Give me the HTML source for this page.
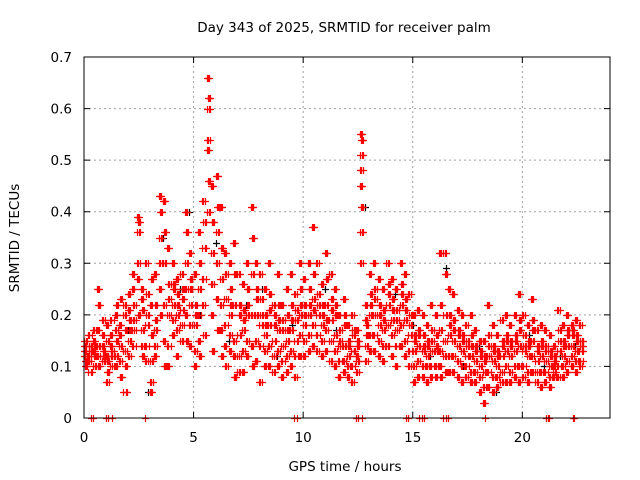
<!DOCTYPE html>
<html><head><meta charset="utf-8"><style>
body{margin:0;background:#fff}
svg{display:block;font-family:"DejaVu Sans","Liberation Sans",sans-serif}
</style></head><body>
<svg id="chart" width="640" height="480">
<text x="344" y="32" font-size="13.5" text-anchor="middle">Day 343 of 2025, SRMTID for receiver palm</text>
<text x="345" y="471" font-size="13.5" text-anchor="middle">GPS time / hours</text>
<text transform="translate(19,238) rotate(-90)" font-size="13.5" text-anchor="middle">SRMTID / TECUs</text>
<g id="grid"></g><g id="ticks"></g><g id="marks"></g>
<rect x="84" y="57" width="526" height="361" fill="none" stroke="#000" stroke-width="1"/>
</svg>
<script>
const xTicks=[0,5,10,15,20];
const yTicks=[0,0.1,0.2,0.3,0.4,0.5,0.6,0.7];
const yLabels=["0","0.1","0.2","0.3","0.4","0.5","0.6","0.7"];
const redT=[0,0.2,0.4,0.6,0.8,1.0,1.2,1.4,1.6,1.8,2.0,2.2,2.4,2.6,2.8,3.0,3.2,3.4,3.6,3.8,4.0,4.2,4.4,4.6,4.8,5.0,5.2,5.4,5.6,5.8,6.0,6.2,6.4,6.6,6.8,7.0,7.2,7.4,7.6,7.8,8.0,8.2,8.4,8.6,8.8,9.0,9.2,9.4,9.6,9.8,10.0,10.2,10.4,10.6,10.8,11.0,11.2,11.4,11.6,11.8,12.0,12.2,12.4,12.6,12.8,13.0,13.2,13.4,13.6,13.8,14.0,14.2,14.4,14.6,14.8,15.0,15.2,15.4,15.6,15.8,16.0,16.2,16.4,16.6,16.8,17.0,17.2,17.4,17.6,17.8,18.0,18.2,18.4,18.6,18.8,19.0,19.2,19.4,19.6,19.8,20.0,20.2,20.4,20.6,20.8,21.0,21.2,21.4,21.6,21.8,22.0,22.2,22.4,22.6];
const redV=[
[0.13,0.11,0.15,0.12,0.14,0.1],[0.12,0.14,0.09,0.16,0.11,0.13],[0.15,0.12,0.1,0.17,0.13,0.14],[0.25,0.22,0.14,0.12,0.17,0.1],[0.16,0.13,0.11,0.19,0.14,0.12],
[0.12,0.09,0.15,0.07,0.18,0.11],[0.16,0.13,0.1,0.19,0.14,0.12],[0.2,0.15,0.12,0.17,0.1,0.22],[0.18,0.23,0.14,0.11,0.16,0.08],[0.22,0.17,0.05,0.13,0.2,0.1],
[0.24,0.19,0.15,0.12,0.21,0.17],[0.28,0.22,0.17,0.14,0.25,0.19],[0.39,0.38,0.36,0.3,0.27,0.2],[0.25,0.21,0.17,0.14,0.23,0.12],[0.3,0.24,0.18,0.14,0.11,0.2],
[0.22,0.16,0.11,0.07,0.05,0.27],[0.28,0.22,0.17,0.14,0.12,0.19],[0.43,0.4,0.35,0.3,0.25,0.2],[0.42,0.36,0.3,0.22,0.15,0.1],[0.33,0.26,0.2,0.14,0.1,0.23],
[0.3,0.26,0.22,0.19,0.16,0.25],[0.27,0.24,0.2,0.17,0.12,0.22],[0.28,0.25,0.21,0.18,0.15,0.23],[0.4,0.36,0.3,0.25,0.2,0.15],[0.32,0.27,0.22,0.18,0.14,0.25],
[0.28,0.22,0.18,0.13,0.1,0.2],[0.36,0.3,0.25,0.2,0.15,0.12],[0.42,0.38,0.33,0.27,0.22,0.16],[0.66,0.62,0.6,0.54,0.52,0.46,0.4],[0.45,0.38,0.32,0.26,0.2,0.13],
[0.47,0.41,0.36,0.3,0.23,0.17],[0.41,0.33,0.27,0.22,0.17,0.12],[0.32,0.28,0.23,0.18,0.14,0.1],[0.3,0.25,0.2,0.16,0.13,0.22],[0.34,0.28,0.22,0.15,0.12,0.08],
[0.28,0.22,0.16,0.12,0.09,0.2],[0.26,0.21,0.17,0.13,0.09,0.19],[0.3,0.25,0.2,0.15,0.12,0.22],[0.41,0.35,0.28,0.2,0.14,0.1],[0.3,0.25,0.2,0.15,0.11,0.23],
[0.28,0.23,0.18,0.14,0.07,0.2],[0.25,0.2,0.16,0.13,0.1,0.18],[0.3,0.24,0.18,0.14,0.1,0.21],[0.22,0.18,0.15,0.12,0.09,0.2],[0.28,0.22,0.17,0.13,0.1,0.19],
[0.22,0.17,0.14,0.11,0.08,0.19],[0.25,0.2,0.15,0.12,0.09,0.17],[0.28,0.22,0.17,0.13,0.1,0.19],[0.24,0.19,0.15,0.12,0.08,0.21],[0.3,0.25,0.2,0.16,0.12,0.22],
[0.27,0.22,0.18,0.15,0.12,0.2],[0.3,0.25,0.2,0.16,0.13,0.22],[0.37,0.28,0.23,0.18,0.14,0.21],[0.3,0.24,0.2,0.16,0.13,0.22],[0.26,0.22,0.18,0.15,0.12,0.2],
[0.32,0.27,0.22,0.17,0.13,0.19],[0.28,0.23,0.19,0.15,0.11,0.21],[0.25,0.2,0.16,0.13,0.1,0.22],[0.2,0.17,0.14,0.11,0.08,0.15],[0.23,0.18,0.14,0.11,0.09,0.2],
[0.18,0.15,0.12,0.1,0.08,0.14],[0.2,0.16,0.13,0.1,0.07,0.17],[0.17,0.14,0.11,0.09,0.12,0.15],[0.55,0.54,0.51,0.48,0.45,0.41,0.36,0.3],[0.22,0.18,0.14,0.11,0.19,0.16],
[0.28,0.24,0.2,0.16,0.13,0.22],[0.3,0.25,0.2,0.16,0.13,0.23],[0.27,0.22,0.18,0.15,0.12,0.2],[0.25,0.21,0.17,0.14,0.11,0.19],[0.3,0.26,0.22,0.18,0.14,0.24],
[0.27,0.23,0.19,0.16,0.12,0.21],[0.25,0.21,0.17,0.14,0.1,0.19],[0.3,0.26,0.22,0.18,0.14,0.24],[0.28,0.23,0.19,0.15,0.12,0.21],[0.24,0.2,0.16,0.13,0.1,0.18],
[0.2,0.16,0.13,0.1,0.07,0.15],[0.21,0.17,0.14,0.11,0.08,0.16],[0.2,0.16,0.13,0.1,0.08,0.14],[0.18,0.15,0.12,0.1,0.07,0.14],[0.22,0.17,0.13,0.1,0.08,0.15],
[0.2,0.16,0.13,0.1,0.08,0.14],[0.32,0.22,0.17,0.13,0.1,0.08],[0.32,0.28,0.2,0.15,0.12,0.09],[0.25,0.2,0.16,0.12,0.09,0.18],[0.24,0.19,0.15,0.12,0.09,0.17],
[0.21,0.17,0.14,0.11,0.08,0.16],[0.2,0.16,0.13,0.1,0.07,0.15],[0.18,0.15,0.12,0.1,0.08,0.14],[0.2,0.16,0.12,0.09,0.07,0.14],[0.17,0.14,0.11,0.09,0.07,0.13],
[0.15,0.12,0.1,0.08,0.05,0.13],[0.15,0.12,0.09,0.06,0.03,0.11],[0.22,0.16,0.12,0.09,0.06,0.14],[0.18,0.14,0.11,0.08,0.05,0.13],[0.16,0.13,0.1,0.08,0.06,0.12],
[0.19,0.15,0.12,0.09,0.07,0.14],[0.2,0.16,0.13,0.1,0.07,0.15],[0.18,0.15,0.12,0.09,0.07,0.14],[0.2,0.16,0.13,0.1,0.08,0.15],[0.24,0.19,0.14,0.1,0.07,0.17],
[0.2,0.16,0.13,0.1,0.08,0.14],[0.18,0.15,0.12,0.09,0.07,0.14],[0.23,0.19,0.15,0.12,0.09,0.17],[0.17,0.14,0.11,0.09,0.07,0.13],[0.18,0.15,0.12,0.09,0.06,0.14],
[0.17,0.14,0.11,0.09,0.07,0.13],[0.16,0.13,0.1,0.08,0.06,0.12],[0.14,0.11,0.09,0.08,0.1,0.12],[0.21,0.17,0.13,0.1,0.08,0.15],[0.18,0.15,0.12,0.1,0.08,0.14],
[0.2,0.17,0.14,0.11,0.09,0.16],[0.18,0.16,0.14,0.12,0.1,0.17],[0.19,0.16,0.13,0.11,0.09,0.15],[0.18,0.15,0.13,0.11,0.1,0.14]
];
const zeroT=[0.3,0.4,1.0,1.1,1.3,2.8,9.6,9.7,12.4,12.5,12.7,14.7,14.8,15.3,15.4,15.5,16.4,16.5,16.6,18.3,21.1,21.15,21.2,22.3,22.35];
const blackT=[0.3,1.1,2.0,2.9,3.6,4.4,4.8,5.3,6.0,6.6,7.4,8.1,8.8,9.5,10.3,11.0,11.5,12.3,12.8,13.5,14.2,15.0,15.8,16.5,17.3,18.0,18.8,19.5,20.3,21.0,21.7,22.4];
const blackV=[0.14,0.12,0.17,0.05,0.35,0.25,0.4,0.2,0.34,0.15,0.22,0.25,0.12,0.18,0.2,0.25,0.17,0.13,0.41,0.2,0.24,0.18,0.12,0.29,0.1,0.14,0.05,0.12,0.16,0.1,0.12,0.14];

const X0=84,X1=610,Y0=418,Y1=57;
const sx=t=>X0+t/24*(X1-X0);
const sy=v=>Y0-v/0.7*(Y0-Y1);
const NS="http://www.w3.org/2000/svg";
const grid=document.getElementById('grid'),ticks=document.getElementById('ticks'),marks=document.getElementById('marks');
function mk(tag,attrs,parent){const e=document.createElementNS(NS,tag);for(const k in attrs)e.setAttribute(k,attrs[k]);parent.appendChild(e);return e;}
xTicks.forEach(t=>{
  const x=sx(t);
  if(t>0){const g=mk('line',{x1:x,y1:Y0,x2:x,y2:Y1,stroke:'#a0a0a0','stroke-dasharray':'2,3'},grid);
  
  }
  const tk=mk('path',{d:`M${x},${Y0}v-6M${x},${Y1}v6`,stroke:'#000'},ticks);
  
  
  const l=mk('text',{x:x,y:Y0+24,'font-size':13.5,'text-anchor':'middle'},ticks);l.textContent=t;
  
  
});
yTicks.forEach((v,i)=>{
  const y=sy(v);
  if(v>0&&v<0.7){const g=mk('line',{x1:X0,y1:y,x2:X1,y2:y,stroke:'#a0a0a0','stroke-dasharray':'2,3'},grid);
  
  }
  const tk=mk('path',{d:`M${X0},${y}h6M${X1},${y}h-6`,stroke:'#000'},ticks);
  
  
  const l=mk('text',{x:X0-12,y:y+5,'font-size':13.5,'text-anchor':'end'},ticks);l.textContent=yLabels[i];
  
  
});
function plus(t,v,c,name){
  const x=Math.round(sx(t))+0.5,y=Math.round(sy(v))+0.5;
  const p=mk('path',{d:`M${x-3.5},${y}h7M${x},${y-3.5}v7`,stroke:c,'stroke-width':1.2},marks);
  
  
}
blackT.forEach((t,i)=>plus(t,blackV[i],'#000','black-point'));
redT.forEach((t,i)=>(redV[i]||[]).forEach((v,j)=>{
  for(let k=0;k<3;k++) plus(t+((j+k)%4)*0.05,v,'#f00','red-point');
}));
zeroT.forEach(t=>plus(t,0,'#f00','zero-point'));
</script>
</body></html>
